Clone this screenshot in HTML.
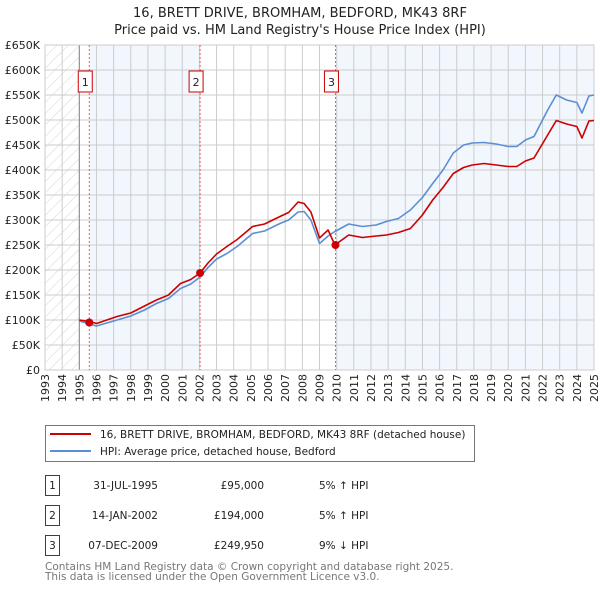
<!DOCTYPE html>
<html><head><meta charset="utf-8"><style>
body{margin:0;background:#fff;font-family:"DejaVu Sans","Liberation Sans",sans-serif;}
svg{display:block}
text{font-family:"DejaVu Sans","Liberation Sans",sans-serif;}
</style></head><body>
<svg id="chart" width="600" height="590" viewBox="0 0 600 590" xmlns="http://www.w3.org/2000/svg">
<defs><pattern id="hatch" patternUnits="userSpaceOnUse" width="8" height="8" patternTransform="rotate(45)"><line x1="0" y1="0" x2="0" y2="8" stroke="#d4d4d4" stroke-width="1"/></pattern></defs>
<text x="300" y="17" text-anchor="middle" font-size="13" fill="#222">16, BRETT DRIVE, BROMHAM, BEDFORD, MK43 8RF</text>
<text x="300" y="34" text-anchor="middle" font-size="13" fill="#222">Price paid vs. HM Land Registry's House Price Index (HPI)</text>
<g id="plot"></g>
<g id="legend">
<rect x="45.5" y="425.5" width="429" height="36" fill="#fff" stroke="#777"/>
<line x1="50" y1="434" x2="91" y2="434" stroke="#cc0000" stroke-width="2"/>
<text x="100" y="438" font-size="10.5" fill="#222">16, BRETT DRIVE, BROMHAM, BEDFORD, MK43 8RF (detached house)</text>
<line x1="50" y1="451" x2="91" y2="451" stroke="#5b8fd4" stroke-width="2"/>
<text x="100" y="455" font-size="10.5" fill="#222">HPI: Average price, detached house, Bedford</text>
</g>
<g id="table" font-size="10.5" fill="#222">
<rect x="45.5" y="475.5" width="14" height="20" fill="#fff" stroke="#cc0000"/><text x="52.5" y="489" text-anchor="middle">1</text>
<text x="158" y="489" text-anchor="end">31-JUL-1995</text><text x="264" y="489" text-anchor="end">£95,000</text><text x="319" y="489">5% ↑ HPI</text>
<rect x="45.5" y="505.5" width="14" height="20" fill="#fff" stroke="#cc0000"/><text x="52.5" y="519" text-anchor="middle">2</text>
<text x="158" y="519" text-anchor="end">14-JAN-2002</text><text x="264" y="519" text-anchor="end">£194,000</text><text x="319" y="519">5% ↑ HPI</text>
<rect x="45.5" y="535.5" width="14" height="20" fill="#fff" stroke="#cc0000"/><text x="52.5" y="549" text-anchor="middle">3</text>
<text x="158" y="549" text-anchor="end">07-DEC-2009</text><text x="264" y="549" text-anchor="end">£249,950</text><text x="319" y="549">9% ↓ HPI</text>
</g>
<text x="45" y="570" font-size="10.5" fill="#777">Contains HM Land Registry data © Crown copyright and database right 2025.</text>
<text x="45" y="580" font-size="10.5" fill="#777">This data is licensed under the Open Government Licence v3.0.</text>
</svg>
<script>
const years=[1995.0,1995.6,1996.0,1997.2,1998.0,1998.8,1999.5,2000.2,2000.9,2001.5,2002.04,2002.5,2003.0,2003.6,2004.2,2005.1,2005.8,2006.7,2007.2,2007.75,2008.1,2008.5,2009.0,2009.5,2009.9,2010.7,2011.5,2012.3,2012.9,2013.6,2014.3,2015.0,2015.6,2016.2,2016.8,2017.4,2017.9,2018.6,2019.3,2020.0,2020.5,2021.0,2021.5,2022.3,2022.8,2023.4,2024.0,2024.3,2024.7,2025.0];
const hpiValues=[98,92,88,100,108,120,133,143,163,172,186,205,222,233,247,273,278,293,300,316,317,300,253,268,277,292,287,290,297,303,320,345,373,400,434,450,454,455,452,447,447,460,467,520,550,540,535,514,548,550];
const priceValues=[100,97,93,107,114,128,140,150,173,181,194,214,232,247,261,287,292,307,315,336,333,316,264,280,250,270,265,268,270,275,283,310,340,365,393,405,410,413,410,407,407,418,424,470,499,492,487,464,498,499];
const saleYears=[1995.58,2002.04,2009.93];
const salePrices=[95,194,249.95];
const yTicks=[0,50,100,150,200,250,300,350,400,450,500,550,600,650];
const yTickLabels=["£0","£50K","£100K","£150K","£200K","£250K","£300K","£350K","£400K","£450K","£500K","£550K","£600K","£650K"];
const xTicks=[1993,1994,1995,1996,1997,1998,1999,2000,2001,2002,2003,2004,2005,2006,2007,2008,2009,2010,2011,2012,2013,2014,2015,2016,2017,2018,2019,2020,2021,2022,2023,2024,2025];

const X0=45,X1=594,Y0=370,Y1=45;
const xs=y=>X0+(y-1993)/(2025-1993)*(X1-X0);
const ys=v=>Y0-v/650*(Y0-Y1);
const NS="http://www.w3.org/2000/svg";
const plot=document.getElementById('plot');
function mk(tag,attrs,parent){const e=document.createElementNS(NS,tag);for(const k in attrs)e.setAttribute(k,attrs[k]);(parent||plot).appendChild(e);return e;}

let r=mk('rect',{x:X0,y:Y1,width:X1-X0,height:Y0-Y1,fill:'#fff'});


r=mk('rect',{x:xs(1993),y:Y1,width:xs(1995)-xs(1993),height:Y0-Y1,fill:'url(#hatch)'});


r=mk('rect',{x:xs(saleYears[0]),y:Y1,width:xs(saleYears[1])-xs(saleYears[0]),height:Y0-Y1,fill:'#f2f6fd'});


r=mk('rect',{x:xs(saleYears[2]),y:Y1,width:X1-xs(saleYears[2]),height:Y0-Y1,fill:'#f2f6fd'});



xTicks.forEach((t,i)=>{
 const x=xs(t);
 const g=mk('line',{x1:x,y1:Y1,x2:x,y2:Y0,stroke:'#cccccc','stroke-width':1});
 
 
 const tx=mk('text',{x:x+4,y:Y0+4,'font-size':11,fill:'#222','text-anchor':'end',transform:`rotate(-90 ${x+4} ${Y0+4})`});
 tx.textContent=t;
 
 
});
yTicks.forEach((t,i)=>{
 const y=ys(t);
 const g=mk('line',{x1:X0,y1:y,x2:X1,y2:y,stroke:'#cccccc','stroke-width':1});
 
 
 const tx=mk('text',{x:40,y:y+4,'font-size':11,fill:'#222','text-anchor':'end'});
 tx.textContent=yTickLabels[i];
 
 
});
let ax=mk('line',{x1:xs(1995),y1:Y1,x2:xs(1995),y2:Y0,stroke:'#888','stroke-width':1});


let fr=mk('rect',{x:X0,y:Y1,width:X1-X0,height:Y0-Y1,fill:'none',stroke:'#ccc'});



saleYears.forEach((s,i)=>{
 const x=xs(s);
 const l=mk('line',{x1:x,y1:Y1,x2:x,y2:Y0,stroke:'#e06060','stroke-width':1,'stroke-dasharray':'2,2'});
 
 
 const b=mk('rect',{x:x-11,y:71,width:14,height:21,fill:'#fff',stroke:'#cc0000'});
 
 
 const t=mk('text',{x:x-4,y:86,'font-size':11,fill:'#222','text-anchor':'middle'});
 t.textContent=String(i+1);
 
 
});

const hp=years.map((y,i)=>`${i?'L':'M'}${xs(y).toFixed(1)},${ys(hpiValues[i]).toFixed(1)}`).join('');
const hl=mk('path',{d:hp,fill:'none',stroke:'#5b8fd4','stroke-width':1.6,'stroke-linejoin':'round'});


const pp=years.map((y,i)=>`${i?'L':'M'}${xs(y).toFixed(1)},${ys(priceValues[i]).toFixed(1)}`).join('');
const pl=mk('path',{d:pp,fill:'none',stroke:'#cc0000','stroke-width':1.6,'stroke-linejoin':'round'});


saleYears.forEach((s,i)=>{
 const c=mk('circle',{cx:xs(s),cy:ys(salePrices[i]),r:4,fill:'#cc0000'});
 
 
});
</script>
</body></html>
